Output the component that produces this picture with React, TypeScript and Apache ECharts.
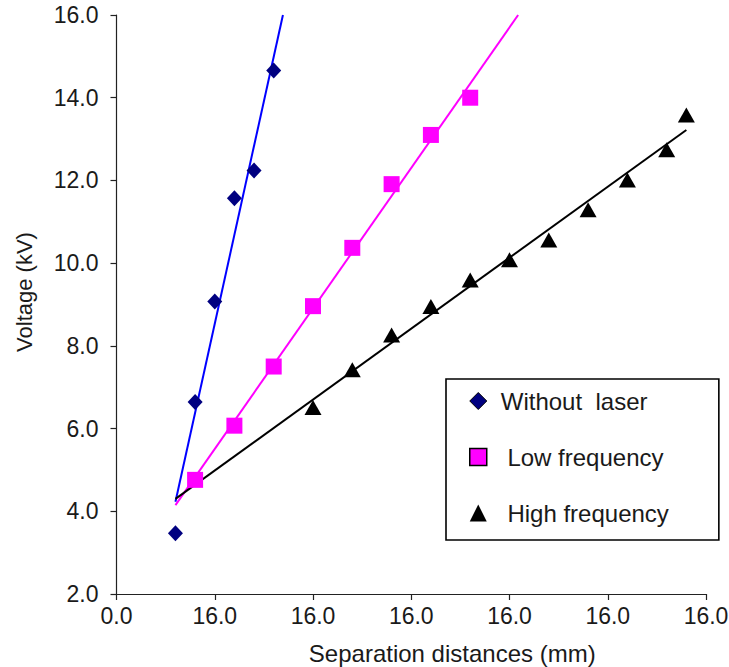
import React, { useEffect, useRef } from "react";
import * as echarts from "echarts";

// Separation distance (mm) and breakdown voltage (kV)
const withoutLaserX = [3, 4, 5, 6, 7, 8];
const withoutLaserY = [3.47, 6.64, 9.07, 11.57, 12.24, 14.66];

const lowFreqX = [4, 6, 8, 10, 12, 14, 16, 18];
const lowFreqY = [4.76, 6.07, 7.5, 8.96, 10.37, 11.91, 13.1, 14.0];

const highFreqX = [10, 12, 14, 16, 18, 20, 22, 24, 26, 28, 29];
const highFreqY = [6.51, 7.42, 8.26, 8.95, 9.59, 10.08, 10.56, 11.29, 12.01, 12.74, 13.58];

// Trend lines (end points)
const withoutLaserTrend = [[3, 4.23], [8.47, 16]];
const lowFreqTrend = [[3, 4.15], [20.44, 16]];
const highFreqTrend = [[3, 4.3], [29, 13.22]];

// Tick labels as printed on the original chart
const xTickLabels = ["0.0", "16.0", "16.0", "16.0", "16.0", "16.0", "16.0"];

const seriesNames = ["Without  laser", "Low frequency", "High frequency"];

const FONT = "'Liberation Sans', Arial, Helvetica, sans-serif";
const TXT = "#1a1a1a";

export default function App() {
  const ref = useRef<HTMLDivElement>(null);

  useEffect(() => {
    if (!ref.current) return;
    const chart = echarts.init(ref.current, undefined, { renderer: "svg" });
    const pts = (xs: number[], ys: number[]) => xs.map((x, i) => [x, ys[i]]);

    chart.setOption({
      animation: false,
      backgroundColor: "#ffffff",
      textStyle: { fontFamily: FONT },
      grid: {
        left: 116.5,
        right: 23,
        top: 15,
        bottom: 73,
        containLabel: false,
        outerBoundsMode: "none",
      },
      xAxis: {
        type: "value",
        min: 0,
        max: 30,
        interval: 5,
        name: "Separation distances (mm)",
        nameLocation: "middle",
        nameGap: 47,
        nameTextStyle: { fontSize: 24, color: TXT, fontFamily: FONT, padding: [0, 0, 0, 82] },
        axisLine: { onZero: false, lineStyle: { color: "#222", width: 1.2 } },
        axisTick: { show: true, length: 6, lineStyle: { color: "#222", width: 1.2 } },
        axisLabel: {
          fontSize: 23,
          color: TXT,
          fontFamily: FONT,
          margin: 10,
          formatter: (v: number) => xTickLabels[Math.round(v / 5)] ?? "",
        },
        splitLine: { show: false },
      },
      yAxis: {
        type: "value",
        min: 2,
        max: 16,
        interval: 2,
        name: "Voltage (kV)",
        nameLocation: "middle",
        nameGap: 81,
        nameTextStyle: { fontSize: 22, color: TXT, fontFamily: FONT, padding: [0, 0, 0, 25] },
        axisLine: { show: true, onZero: false, lineStyle: { color: "#222", width: 1.2 } },
        axisTick: { show: true, length: 6, lineStyle: { color: "#222", width: 1.2 } },
        axisLabel: {
          fontSize: 23,
          color: TXT,
          fontFamily: FONT,
          margin: 18,
          formatter: (v: number) => v.toFixed(1),
        },
        splitLine: { show: false },
      },
      legend: {
        orient: "vertical",
        left: 446,
        top: 379,
        padding: [10, 50, 15, 23],
        itemGap: 32,
        itemWidth: 17,
        itemHeight: 17,
        borderColor: "#000",
        borderWidth: 1.6,
        backgroundColor: "#fff",
        textStyle: { fontSize: 24, color: TXT, fontFamily: FONT, padding: [0, 0, 0, 9], lineHeight: 24 },
        formatter: (name: string) => (name === seriesNames[0] ? name : " " + name),
        data: [
          { name: seriesNames[0], icon: "diamond", itemStyle: { color: "#000080", borderColor: "#000", borderWidth: 1 } },
          { name: seriesNames[1], icon: "rect", itemStyle: { color: "#ff00ff", borderColor: "#000", borderWidth: 1.5 } },
          { name: seriesNames[2], icon: "triangle", itemStyle: { color: "#000", borderWidth: 0 } },
        ],
      },
      series: [
        {
          name: "trend1",
          type: "line",
          data: withoutLaserTrend,
          showSymbol: false,
          symbol: "none",
          lineStyle: { color: "#0000ff", width: 2 },
          silent: true,
          z: 1,
        },
        {
          name: "trend2",
          type: "line",
          data: lowFreqTrend,
          showSymbol: false,
          symbol: "none",
          lineStyle: { color: "#ff00ff", width: 2 },
          silent: true,
          z: 1,
        },
        {
          name: "trend3",
          type: "line",
          data: highFreqTrend,
          showSymbol: false,
          symbol: "none",
          lineStyle: { color: "#000000", width: 2 },
          silent: true,
          z: 1,
        },
        {
          name: seriesNames[0],
          type: "scatter",
          data: pts(withoutLaserX, withoutLaserY),
          symbol: "diamond",
          symbolSize: [15, 16],
          itemStyle: { color: "#000080", opacity: 1 },
          z: 3,
        },
        {
          name: seriesNames[1],
          type: "scatter",
          data: pts(lowFreqX, lowFreqY),
          symbol: "rect",
          symbolSize: 16,
          itemStyle: { color: "#ff00ff", opacity: 1 },
          z: 3,
        },
        {
          name: seriesNames[2],
          type: "scatter",
          data: pts(highFreqX, highFreqY),
          symbol: "triangle",
          symbolSize: [17, 15],
          itemStyle: { color: "#000000", opacity: 1 },
          z: 3,
        },
      ],
    });

    return () => chart.dispose();
  }, []);

  return (
    <div
      ref={ref}
      style={{ position: "fixed", left: 0, top: 0, width: 729, height: 667, background: "#fff" }}
    />
  );
}
